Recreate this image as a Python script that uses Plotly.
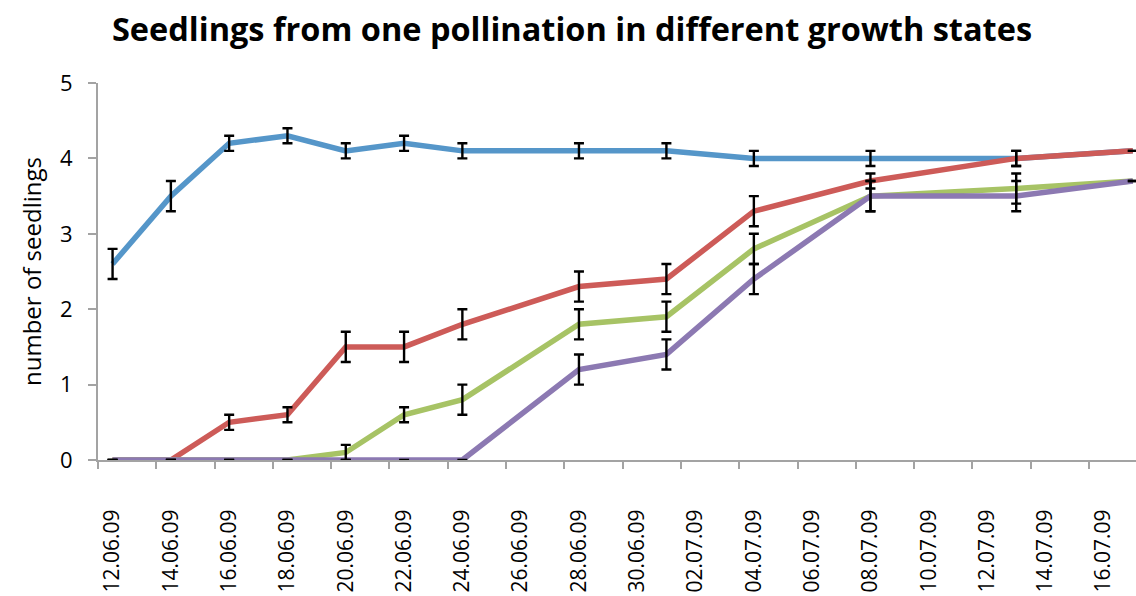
import plotly.graph_objects as go

# ---- data ----
dates = ["2009-06-12", "2009-06-14", "2009-06-16", "2009-06-18", "2009-06-20",
         "2009-06-22", "2009-06-24", "2009-06-28", "2009-07-01", "2009-07-04",
         "2009-07-08", "2009-07-13", "2009-07-17"]

blue_vals = [2.6, 3.5, 4.2, 4.3, 4.1, 4.2, 4.1, 4.1, 4.1, 4.0, 4.0, 4.0, 4.1]
blue_err = [0.2, 0.2, 0.1, 0.1, 0.1, 0.1, 0.1, 0.1, 0.1, 0.1, 0.1, 0.1, None]

red_vals = [0, 0, 0.5, 0.6, 1.5, 1.5, 1.8, 2.3, 2.4, 3.3, 3.7, 4.0, 4.1]
red_err = [None, None, 0.1, 0.1, 0.2, 0.2, 0.2, 0.2, 0.2, 0.2, 0.1, 0.1, None]

green_vals = [0, 0, 0, 0, 0.1, 0.6, 0.8, 1.8, 1.9, 2.8, 3.5, 3.6, 3.7]
green_err = [None, None, None, None, 0.1, 0.1, 0.2, 0.2, 0.2, 0.2, 0.2, 0.2, None]

purple_vals = [0, 0, 0, 0, 0, 0, 0, 1.2, 1.4, 2.4, 3.5, 3.5, 3.7]
purple_err = [None, None, None, None, None, None, None, 0.2, 0.2, 0.2, 0.2, 0.2, None]

tick_dates = ["2009-06-12", "2009-06-14", "2009-06-16", "2009-06-18", "2009-06-20",
              "2009-06-22", "2009-06-24", "2009-06-26", "2009-06-28", "2009-06-30",
              "2009-07-02", "2009-07-04", "2009-07-06", "2009-07-08", "2009-07-10",
              "2009-07-12", "2009-07-14", "2009-07-16"]
tick_labels = ["12.06.09", "14.06.09", "16.06.09", "18.06.09", "20.06.09",
               "22.06.09", "24.06.09", "26.06.09", "28.06.09", "30.06.09",
               "02.07.09", "04.07.09", "06.07.09", "08.07.09", "10.07.09",
               "12.07.09", "14.07.09", "16.07.09"]

title_text = "Seedlings from one pollination in different growth states"
y_title = "number of seedlings"

series = [
    (blue_vals, blue_err, "#5596C9"),
    (red_vals, red_err, "#CD5B58"),
    (green_vals, green_err, "#A7C365"),
    (purple_vals, purple_err, "#8C79B2"),
]

FONT = "Open Sans"
AXIS_GREY = "#A3A3A3"

fig = go.Figure()

for vals, err, col in series:
    fig.add_trace(go.Scatter(
        x=dates, y=vals, mode="lines",
        line=dict(color=col, width=5.5),
        showlegend=False, hoverinfo="skip",
    ))

for vals, err, col in series:
    fig.add_trace(go.Scatter(
        x=dates, y=vals, mode="markers",
        marker=dict(color="rgba(0,0,0,0)", size=1),
        error_y=dict(type="data", array=err, symmetric=True,
                     color="black", thickness=2.4, width=5),
        showlegend=False, hoverinfo="skip",
    ))

fig.update_layout(
    width=1136, height=596,
    margin=dict(l=98, r=0, t=83, b=136, autoexpand=False),
    paper_bgcolor="white", plot_bgcolor="white",
    font=dict(family=FONT, color="black"),
    title=dict(text="<b>" + title_text + "</b>",
               font=dict(family=FONT, size=32.5, color="black"),
               x=572 / 1136, xref="container", xanchor="center",
               y=1 - 30 / 596, yref="container", yanchor="middle"),
    xaxis=dict(
        type="date",
        range=["2009-06-11 12:00", "2009-07-17 02:38"],
        tickmode="array", tickvals=tick_dates, ticktext=tick_labels,
        tickangle=-90, ticks="",
        ticklabelstandoff=39,
        tickfont=dict(family=FONT, size=21, color="black"),
        showline=True, linecolor=AXIS_GREY, linewidth=2,
        showgrid=False, zeroline=False,
        minor=dict(tick0="2009-06-11 12:00", dtick=2 * 86400000,
                   ticks="outside", ticklen=7, tickwidth=2,
                   tickcolor=AXIS_GREY, showgrid=False),
        automargin=False,
    ),
    yaxis=dict(
        range=[0, 5], tickmode="array", tickvals=[0, 1, 2, 3, 4, 5],
        ticks="outside", ticklen=8, tickwidth=2, tickcolor=AXIS_GREY,
        ticklabelstandoff=11,
        tickfont=dict(family=FONT, size=22, color="black"),
        showline=True, linecolor=AXIS_GREY, linewidth=2,
        showgrid=False, zeroline=False,
        title=dict(text=y_title, font=dict(family=FONT, size=24, color="black"),
                   standoff=12),
        automargin=False,
    ),
)

fig.write_html("out.html")
